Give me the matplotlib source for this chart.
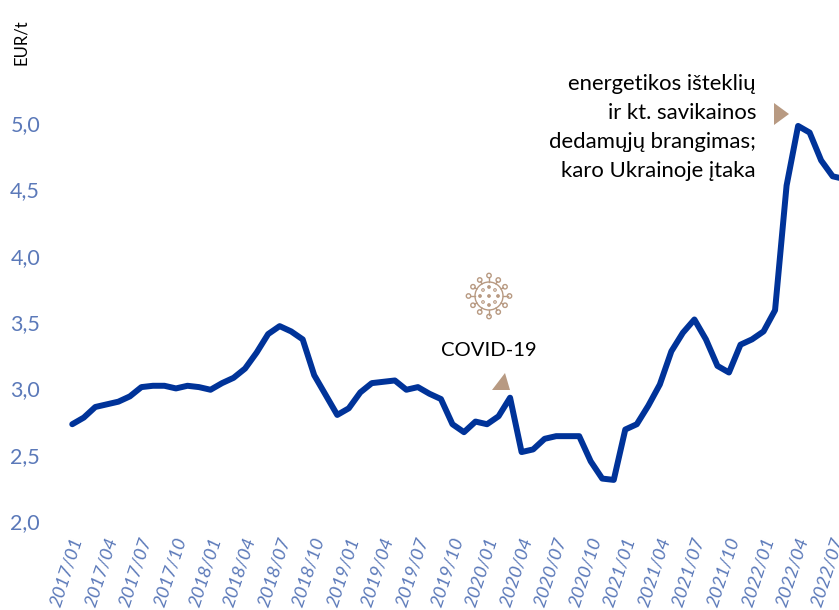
import numpy as np
import matplotlib
matplotlib.use("Agg")
import matplotlib.pyplot as plt
from matplotlib.patches import Circle, Polygon
from matplotlib.transforms import ScaledTranslation

plt.rcParams['font.family'] = ['Lato', 'DejaVu Sans']

# Mėnesinės reikšmės, EUR/t
values = [2.73, 2.78, 2.86, 2.88, 2.90, 2.94, 3.01, 3.02, 3.02, 3.00, 3.02, 3.01,
          2.99, 3.04, 3.08, 3.15, 3.27, 3.41, 3.47, 3.43, 3.37, 3.10, 2.95, 2.80,
          2.85, 2.97, 3.04, 3.05, 3.06, 2.99, 3.01, 2.96, 2.92, 2.73, 2.67, 2.75,
          2.73, 2.79, 2.93, 2.52, 2.54, 2.62, 2.64, 2.64, 2.64, 2.45, 2.32, 2.31,
          2.69, 2.73, 2.87, 3.03, 3.28, 3.42, 3.52, 3.37, 3.17, 3.12, 3.33, 3.37,
          3.43, 3.59, 4.53, 4.98, 4.93, 4.72, 4.60, 4.58]
tick_labels = ['2017/01', '2017/04', '2017/07', '2017/10', '2018/01', '2018/04', '2018/07',
               '2018/10', '2019/01', '2019/04', '2019/07', '2019/10', '2020/01', '2020/04',
               '2020/07', '2020/10', '2021/01', '2021/04', '2021/07', '2021/10', '2022/01',
               '2022/04', '2022/07']
y_ticks = [2.0, 2.5, 3.0, 3.5, 4.0, 4.5, 5.0]

W, H = 839, 610
BLUE = '#003399'
TICK = '#5B79B9'
TAN = '#B89A82'

fig = plt.figure(figsize=(W / 100, H / 100), dpi=100)
ax = fig.add_axes([66.5 / W, (H - 521) / H, (W - 66.5) / W, 464 / H])

months = np.arange(len(values))
ax.plot(months, values, color=BLUE, lw=4.3, solid_joinstyle='round', solid_capstyle='round')
ax.set_xlim(-0.5, 66.55)
ax.set_ylim(2.0, 5.5)

ax.set_yticks(y_ticks)
ax.set_yticklabels([f'{v:.1f}'.replace('.', ',') for v in y_ticks], color=TICK, fontsize=15.5)
ax.set_xticks(months[::3][:len(tick_labels)])
ax.set_xticklabels(tick_labels, rotation=72, ha='right', rotation_mode='anchor',
                   style='italic', color=TICK, fontsize=13.3)
ax.tick_params(axis='both', length=0)
ax.tick_params(axis='x', pad=10)
ax.tick_params(axis='y', pad=19)
shift = ScaledTranslation(-2 / 100, 0, fig.dpi_scale_trans)
for lab in ax.get_xticklabels():
    lab.set_transform(lab.get_transform() + shift)
for s in ax.spines.values():
    s.set_visible(False)

# Viskas žemiau - pikseliais nuo viršaus, kaip paveiksle
over = fig.add_axes([0, 0, 1, 1], facecolor='none')
over.set_xlim(0, W)
over.set_ylim(H, 0)
over.axis('off')

over.text(21, 42, 'EUR/t', rotation=90, ha='center', va='center', fontsize=12, color='black')
over.text(489, 351, 'COVID-19', ha='center', va='center', fontsize=14.6, color='black')
note = ['energetikos išteklių', 'ir kt. savikainos', 'dedamųjų brangimas;', 'karo Ukrainoje įtaka']
for k, line in enumerate(note):
    over.text(756, 84 + k * 29, line, ha='right', va='center', fontsize=15.9, color='black')

over.add_patch(Polygon([(492, 390), (510, 390), (505, 373)], color=TAN, lw=0))
over.add_patch(Polygon([(774, 103), (789, 114), (774, 125)], color=TAN, lw=0))

# Viruso ženkliukas
cx, cy = 489, 296
over.add_patch(Circle((cx, cy), 14, fill=False, ec=TAN, lw=1))
for a in np.arange(0, 360, 30):
    r = np.radians(a)
    big = a % 90 == 0
    r1 = 18.5 if big else 16.5
    over.plot([cx + 14 * np.cos(r), cx + r1 * np.cos(r)], [cy + 14 * np.sin(r), cy + r1 * np.sin(r)],
              color=TAN, lw=1)
    over.add_patch(Circle((cx + (r1 + 2) * np.cos(r), cy + (r1 + 2) * np.sin(r)), 2.2,
                          fill=False, ec=TAN, lw=1))
for dx, dy in [(0, 0), (-6, -6), (6, -6), (-6, 6), (6, 6), (0, -9), (0, 9), (-9, 0), (9, 0)]:
    over.add_patch(Circle((cx + dx, cy + dy), 1.3, fill=dx == 0 or dy == 0, fc=TAN, ec=TAN, lw=0.8))

fig.savefig('out.png', dpi=100)
